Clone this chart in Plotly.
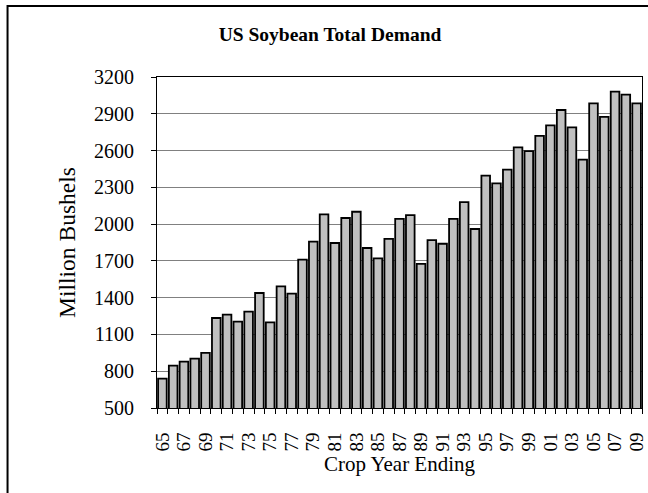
import plotly.graph_objects as go

years = [f"{y % 100:02d}" for y in range(1965, 2010)]
demand = [739, 845, 878, 902, 949, 1234, 1261, 1204, 1286, 1438,
          1199, 1492, 1433, 1710, 1857, 2080, 1846, 2050, 2101, 1805,
          1721, 1879, 2042, 2074, 1675, 1870, 1840, 2042, 2180, 1960,
          2396, 2333, 2444, 2626, 2596, 2719, 2806, 2931, 2789, 2526,
          2985, 2874, 3080, 3056, 2985]
y_ticks = list(range(500, 3201, 300))

idx = list(range(len(years)))
font = "Liberation Serif, Times New Roman, serif"

W, H = 648, 493
L, R, T, B = 157, 647, 77, 408

fig = go.Figure(go.Bar(
    x=idx, y=demand,
    marker=dict(color="#C0C0C0", line=dict(color="black", width=1.8)),
    width=0.8,
))

fig.update_layout(
    width=W, height=H,
    margin=dict(l=L, r=W - R, t=T, b=H - B),
    paper_bgcolor="white", plot_bgcolor="white",
    font=dict(family=font, size=20, color="black"),
    showlegend=False,
    title=dict(text="<b>US Soybean Total Demand</b>", x=330 / W, xanchor="center",
               y=1 - 34 / H, yanchor="middle", xref="container",
               font=dict(size=19.5, family=font)),
    xaxis=dict(
        range=[-0.5, len(years) - 0.5],
        tickmode="array", tickvals=idx[::2],
        ticktext=years[::2], tickangle=-90, ticks="",
        ticklabeloverflow="allow",
        showgrid=False, zeroline=False,
        showline=True, linecolor="black", linewidth=1, mirror=True,
        minor=dict(tick0=-0.5, dtick=1, ticks="outside", ticklen=5,
                   tickcolor="black", showgrid=False),
        ticklabelstandoff=16,
        title=dict(text="Crop Year Ending", standoff=5, font=dict(size=21)),
        tickfont=dict(size=19),
    ),
    yaxis=dict(
        range=[500, 3200], tickmode="array", tickvals=y_ticks,
        ticks="outside", ticklen=5, tickcolor="black",
        showgrid=True, gridcolor="#808080", gridwidth=1,
        zeroline=False, showline=True, linecolor="black", linewidth=1, mirror=True,
        ticklabelstandoff=13,
        title=dict(text="Million Bushels", standoff=11, font=dict(size=23.5)),
        tickfont=dict(size=20),
    ),
    shapes=[dict(type="rect", xref="paper", yref="paper",
                 x0=(6 - L) / (R - L), x1=(670 - L) / (R - L),
                 y0=(B - 520) / (B - T), y1=(B - 6) / (B - T),
                 line=dict(color="black", width=2), layer="below")],
)

fig.write_html("out.html", config={"displayModeBar": False},
               post_script="document.body.style.margin='0';document.body.style.overflow='hidden';")
